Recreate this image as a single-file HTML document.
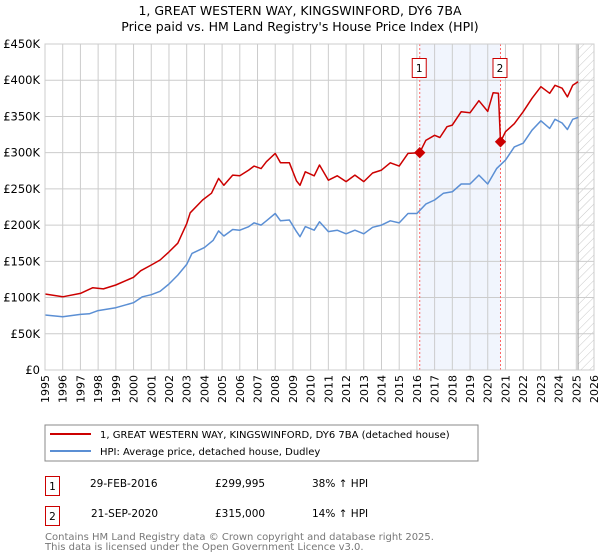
<!DOCTYPE html>
<html><head><meta charset="utf-8"><style>
body{margin:0;background:#fff;font-family:"DejaVu Sans","Liberation Sans",sans-serif;}
svg{display:block}
</style></head><body>
<svg id="chart" width="600" height="560" viewBox="0 0 600 560" font-family="DejaVu Sans, Liberation Sans, sans-serif">
<defs>
<pattern id="hatch" patternUnits="userSpaceOnUse" width="6" height="6" patternTransform="rotate(45)">
<line x1="0" y1="0" x2="0" y2="6" stroke="#bbb" stroke-width="0.8"/>
</pattern>
</defs>
<text x="300" y="15" text-anchor="middle" font-size="12.5">1, GREAT WESTERN WAY, KINGSWINFORD, DY6 7BA</text>
<text x="300" y="31" text-anchor="middle" font-size="12.5">Price paid vs. HM Land Registry's House Price Index (HPI)</text>
<g id="plot"></g>
<g>
<rect x="45" y="425" width="433" height="36" fill="#fff" stroke="#888" stroke-width="1"/>
<line x1="50" y1="434" x2="91" y2="434" stroke="#cc0000" stroke-width="2"/>
<text x="100" y="438" font-size="10">1, GREAT WESTERN WAY, KINGSWINFORD, DY6 7BA (detached house)</text>
<line x1="50" y1="451" x2="91" y2="451" stroke="#5b8fd4" stroke-width="2"/>
<text x="100" y="455" font-size="10">HPI: Average price, detached house, Dudley</text>
</g>
<g font-size="10.5">
<rect x="45.5" y="476.5" width="14" height="19" fill="#fff" stroke="#cc0000"/>
<text x="52.5" y="490" text-anchor="middle">1</text>
<text x="90" y="487">29-FEB-2016</text>
<text x="215" y="487">£299,995</text>
<text x="312" y="487">38% ↑ HPI</text>
<rect x="45.5" y="506.5" width="14" height="19" fill="#fff" stroke="#cc0000"/>
<text x="52.5" y="520" text-anchor="middle">2</text>
<text x="91" y="517">21-SEP-2020</text>
<text x="215" y="517">£315,000</text>
<text x="312" y="517">14% ↑ HPI</text>
</g>
<text x="45" y="540" font-size="10" fill="#777">Contains HM Land Registry data © Crown copyright and database right 2025.</text>
<text x="45" y="550" font-size="10" fill="#777">This data is licensed under the Open Government Licence v3.0.</text>
</svg>
<script>
const yearTicks=[1995,1996,1997,1998,1999,2000,2001,2002,2003,2004,2005,2006,2007,2008,2009,2010,2011,2012,2013,2014,2015,2016,2017,2018,2019,2020,2021,2022,2023,2024,2025,2026];
const valueTicks=[0,50000,100000,150000,200000,250000,300000,350000,400000,450000];
const valueTickLabels=["£0","£50K","£100K","£150K","£200K","£250K","£300K","£350K","£400K","£450K"];
const hpiDates=[1995.0,1996.0,1997.0,1997.5,1998.0,1999.0,2000.0,2000.5,2001.0,2001.5,2002.0,2002.5,2003.0,2003.3,2004.0,2004.5,2004.8,2005.1,2005.6,2006.0,2006.5,2006.8,2007.2,2007.5,2008.0,2008.3,2008.8,2009.2,2009.4,2009.7,2010.2,2010.5,2011.0,2011.5,2012.0,2012.5,2013.0,2013.5,2014.0,2014.5,2015.0,2015.5,2016.0,2016.5,2017.0,2017.5,2018.0,2018.5,2019.0,2019.5,2020.0,2020.5,2021.0,2021.5,2022.0,2022.5,2023.0,2023.5,2023.8,2024.2,2024.5,2024.8,2025.1];
const hpiValues=[75900,73600,76800,77600,82000,86000,92900,101000,104000,108600,118700,131000,145800,161000,169000,179000,192000,185000,194000,193000,197800,203000,200000,206000,216000,206000,207000,191000,184000,198000,193000,204600,191000,193000,188000,193000,188000,197000,200000,206000,203000,216000,216000,229000,234600,244000,246000,256700,256700,269000,256700,278000,289800,308000,313000,331000,344000,333500,346000,341000,332000,346000,348700];
const priceDates=[1995.0,1996.0,1997.0,1997.7,1998.3,1999.0,2000.0,2000.4,2001.0,2001.5,2002.0,2002.5,2003.0,2003.2,2003.9,2004.4,2004.8,2005.1,2005.6,2006.0,2006.5,2006.8,2007.2,2007.5,2008.0,2008.3,2008.8,2009.2,2009.4,2009.7,2010.2,2010.5,2011.0,2011.5,2012.0,2012.5,2013.0,2013.5,2014.0,2014.5,2015.0,2015.5,2016.16,2016.5,2017.0,2017.3,2017.7,2018.0,2018.5,2019.0,2019.5,2020.0,2020.3,2020.6,2020.72,2021.0,2021.5,2022.0,2022.5,2023.0,2023.5,2023.8,2024.2,2024.5,2024.8,2025.1];
const priceValues=[104900,101000,105800,113600,112000,117300,128000,137000,145000,151800,163000,175000,202000,217000,234600,244000,264500,255000,269000,268000,276000,281500,278000,287500,299000,286000,286000,261000,255000,273600,268000,283000,262000,268000,260000,269000,260000,272000,276000,286000,281500,299000,299995,317000,324000,321000,335800,338000,356600,355000,371700,357000,382700,382000,315000,329000,340000,356500,375000,391000,382000,393000,389000,377000,393000,398000];
const saleDates=[2016.16,2020.72];
const salePrices=[299995,315000];
const saleLabels=["1","2"];
const forecastStart=2025.1;

const X0=45,X1=594,Y0=370,Y1=44;
const xScale=t=>X0+(t-1995)/(2026-1995)*(X1-X0);
const yScale=v=>Y0-v/450000*(Y0-Y1);
const NS="http://www.w3.org/2000/svg";
const plot=document.getElementById('plot');
function mk(tag,attrs,parent){const e=document.createElementNS(NS,tag);for(const k in attrs)e.setAttribute(k,attrs[k]);(parent||plot).appendChild(e);return e;}

const bg=mk('rect',{x:X0,y:Y1,width:X1-X0,height:Y0-Y1,fill:'#fff'});


const band=mk('rect',{x:xScale(saleDates[0]),y:Y1,width:xScale(saleDates[1])-xScale(saleDates[0]),height:Y0-Y1,fill:'#eef3fd',opacity:0.8});


const hatch=mk('rect',{x:xScale(forecastStart),y:Y1,width:X1-xScale(forecastStart),height:Y0-Y1,fill:'url(#hatch)'});



yearTicks.forEach(y=>{
  const x=xScale(y);
  const l=mk('line',{x1:x,y1:Y1,x2:x,y2:Y0,stroke:'#cccccc','stroke-width':1});
  
  
  const t=mk('text',{x:0,y:0,'font-size':11,'text-anchor':'end',transform:`translate(${x+4},${Y0+5}) rotate(-90)`});
  
  
  t.textContent=y;
});
valueTicks.forEach((v,i)=>{
  const y=yScale(v);
  const l=mk('line',{x1:X0,y1:y,x2:X1,y2:y,stroke:'#cccccc','stroke-width':1});
  
  
  const t=mk('text',{x:X0-5,y:y+4,'font-size':11.5,'text-anchor':'end'});
  
  
  t.textContent=valueTickLabels[i];
});
const fl=mk('line',{x1:xScale(forecastStart),y1:Y1,x2:xScale(forecastStart),y2:Y0,stroke:'#999','stroke-width':1});



saleDates.forEach((d,i)=>{
  const x=xScale(d);
  const l=mk('line',{x1:x,y1:Y1,x2:x,y2:Y0,stroke:'#ff6666','stroke-width':1,'stroke-dasharray':'2,2'});
  
  
});

function path(dates,vals,color,name){
  const d=dates.map((t,i)=>(i?'L':'M')+xScale(t).toFixed(1)+','+yScale(vals[i]).toFixed(1)).join('');
  const p=mk('path',{d:d,fill:'none',stroke:color,'stroke-width':1.5,'stroke-linejoin':'round'});
  
  
}
path(hpiDates,hpiValues,'#5b8fd4','hpi-line');
path(priceDates,priceValues,'#cc0000','price-line');

saleDates.forEach((d,i)=>{
  const x=xScale(d),y=yScale(salePrices[i]);
  const m=mk('rect',{x:x-4,y:y-4,width:8,height:8,fill:'#cc0000',transform:`rotate(45 ${x} ${y})`});
  
  
  const b=mk('rect',{x:x-7.5,y:58.5,width:14,height:19,fill:'#fff',stroke:'#cc0000'});
  
  
  const t=mk('text',{x:x-0.5,y:72,'font-size':10.5,'text-anchor':'middle'});
  
  
  t.textContent=saleLabels[i];
});
const frame=mk('rect',{x:X0,y:Y1,width:X1-X0,height:Y0-Y1,fill:'none',stroke:'#cccccc'});


</script>
</body></html>
